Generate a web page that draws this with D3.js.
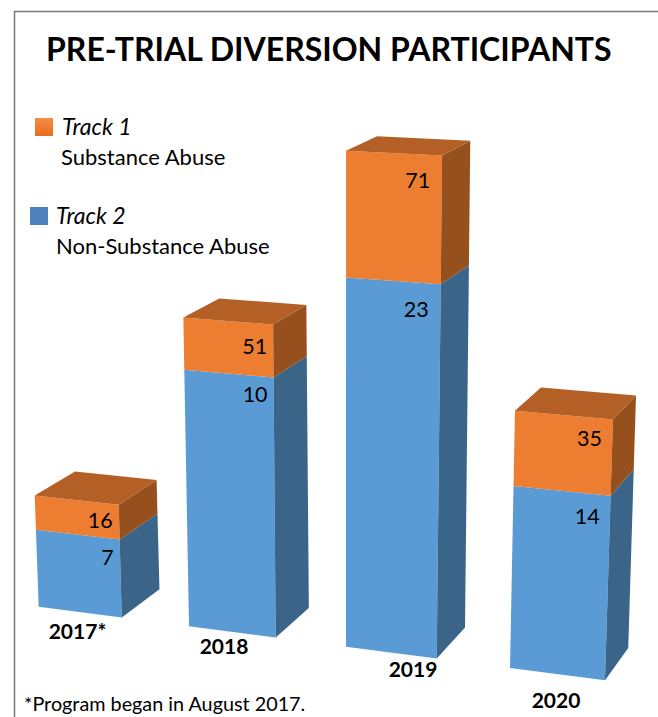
<!DOCTYPE html>
<html>
<head>
<meta charset="utf-8">
<script src="https://cdn.jsdelivr.net/npm/d3@7"></script>
<style>
  html, body { margin: 0; padding: 0; background: #fff; }
  svg { display: block; }
  text { font-family: Lato, "Noto Sans", sans-serif; fill: #000; }
</style>
</head>
<body>
<svg id="chart" width="658" height="717" viewBox="0 0 658 717"></svg>
<script>
const years = ["2017*", "2018", "2019", "2020"];
// height of each stacked segment; the picture prints these crossed over,
// the number on the blue face is the height of the orange one and vice versa
const blueValues = [16, 51, 71, 35];
const orangeValues = [7, 10, 23, 14];

const svg = d3.select("#chart");
const W = 658, H = 717;

// frame, left and top only
svg.append("path")
  .attr("d", `M14.5,${H} V11.5 H${W}`)
  .attr("fill", "none")
  .attr("stroke", "#7a7a7a")
  .attr("stroke-width", 1.5);

svg.append("text")
  .attr("x", 46)
  .attr("y", 61)
  .attr("font-size", "32px")
  .attr("font-weight", 700)
  .text("PRE-TRIAL DIVERSION PARTICIPANTS");

// Column scales
const idx = years.map((d, i) => i);
const frontX = d3.scaleLinear().domain(idx).range([38.7, 189, 346, 510]);
const frontW = d3.scaleLinear().domain(idx).range([83, 86.7, 90.7, 95]);
const unitPx = d3.scaleLinear().domain(idx).range([4.76, 4.86, 4.96, 5.08]);
const groundY = d3.scaleLinear().domain([0, W]).range([601.7, 601.7 + 0.13 * W]);

// the slightly tilted perspective of the 3d bars
function project(i, side, depth, v) {
  const xb = frontX(i) + side * frontW(i);
  const h = unitPx(i) * v * (1 + 0.00068 * v) * (1 + 0.014 * side);
  const x = 345 + (xb - 345) * (1 + h / 8500);
  const y = groundY(xb) - h;
  return depth
    ? [x + 41.4 - 0.03 * x, y - (27.3 + 0.0082 * x) + 0.032 * h]
    : [x, y];
}

const poly = (g, pts, fill) => g.append("polygon")
  .attr("points", pts.map(p => p.join(",")).join(" "))
  .attr("fill", fill);

const labelInset = [6, 6, 12, 11];
const topLabelDrop = [23, 30, 33, 26];
const midLabelDrop = [26, 25, 33, 28];

const barLabel = (g, p, inset, drop, txt) => g.append("text")
  .attr("x", p[0] - inset)
  .attr("y", p[1] + drop)
  .attr("text-anchor", "end")
  .attr("font-size", "21.5px")
  .text(txt);

idx.forEach(i => {
  const g = svg.append("g");
  const mid = blueValues[i];
  const top = mid + orangeValues[i];

  // Blue
  poly(g, [project(i, 0, 0, 0), project(i, 1, 0, 0), project(i, 1, 0, mid), project(i, 0, 0, mid)], "#5b9bd5");
  poly(g, [project(i, 1, 0, 0), project(i, 1, 1, 0), project(i, 1, 1, mid), project(i, 1, 0, mid)], "#3b6489");
  // Orange
  poly(g, [project(i, 0, 0, mid), project(i, 1, 0, mid), project(i, 1, 0, top), project(i, 0, 0, top)], "#ed7d31");
  poly(g, [project(i, 1, 0, mid), project(i, 1, 1, mid), project(i, 1, 1, top), project(i, 1, 0, top)], "#96501e");
  poly(g, [project(i, 0, 0, top), project(i, 1, 0, top), project(i, 1, 1, top), project(i, 0, 1, top)], "#b35f25");

  barLabel(g, project(i, 1, 0, top), labelInset[i], topLabelDrop[i], blueValues[i]);
  barLabel(g, project(i, 1, 0, mid), labelInset[i], midLabelDrop[i], orangeValues[i]);
});

// Year labels
const yearX = [77.5, 224, 413, 556];
const yearY = [639, 654, 677, 708];
svg.selectAll(".year")
  .data(years)
  .enter()
  .append("text")
  .attr("class", "year")
  .attr("x", (d, i) => yearX[i])
  .attr("y", (d, i) => yearY[i])
  .attr("text-anchor", "middle")
  .attr("font-size", "21px")
  .attr("font-weight", 700)
  .text(d => d);

// Legend
const defs = svg.append("defs");
const grad = defs.append("linearGradient")
  .attr("id", "legendOrange")
  .attr("x1", 0).attr("y1", 0).attr("x2", 0).attr("y2", 1);
grad.append("stop").attr("offset", "0%").attr("stop-color", "#f68d48");
grad.append("stop").attr("offset", "100%").attr("stop-color", "#e96c1c");

svg.append("rect")
  .attr("x", 35).attr("y", 118).attr("width", 18).attr("height", 18)
  .attr("fill", "url(#legendOrange)");
svg.append("rect")
  .attr("x", 30).attr("y", 207).attr("width", 18).attr("height", 18)
  .attr("fill", "#4f81bd");

const legendText = [
  { x: 62, y: 135, t: "Track 1", it: true },
  { x: 61, y: 165, t: "Substance Abuse", it: false },
  { x: 56, y: 224, t: "Track 2", it: true },
  { x: 56, y: 254, t: "Non-Substance Abuse", it: false }
];
svg.selectAll(".legend")
  .data(legendText)
  .enter()
  .append("text")
  .attr("class", "legend")
  .attr("x", d => d.x)
  .attr("y", d => d.y)
  .attr("font-size", d => d.it ? "23px" : "22px")
  .attr("font-style", d => d.it ? "italic" : "normal")
  .text(d => d.t);

svg.append("text")
  .attr("x", 24)
  .attr("y", 711)
  .attr("font-size", "19.8px")
  .text("*Program began in August 2017.");
</script>
</body>
</html>
